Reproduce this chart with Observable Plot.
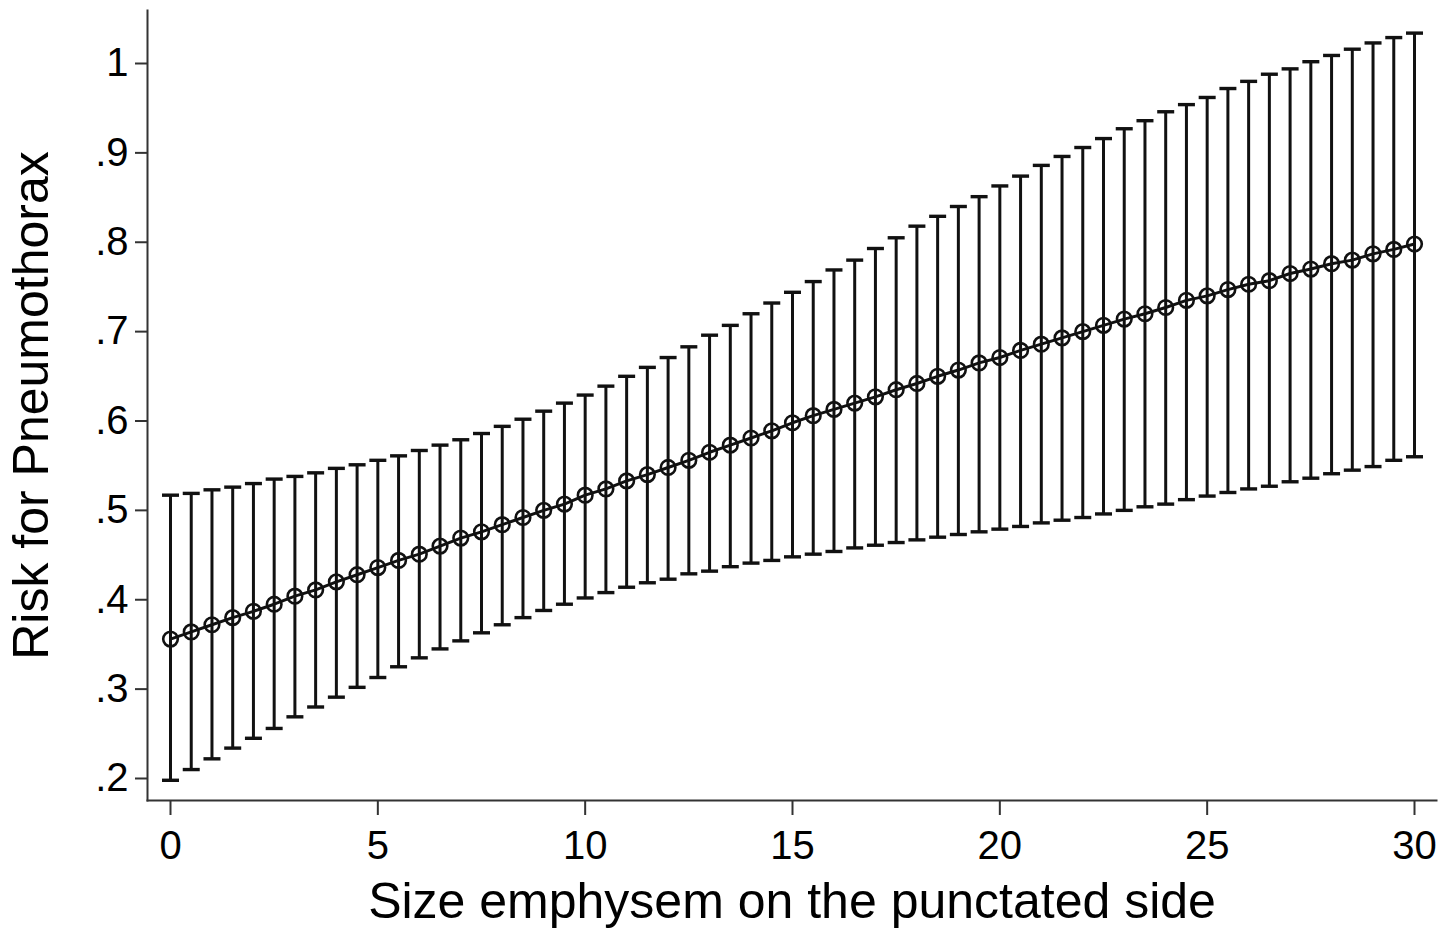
<!DOCTYPE html>
<html>
<head>
<meta charset="utf-8">
<script src="https://cdn.jsdelivr.net/npm/d3@7"></script>
<script src="https://cdn.jsdelivr.net/npm/@observablehq/plot@0.6"></script>
<style>
html, body { margin: 0; padding: 0; background: #fff; }
#chart svg { display: block; }
</style>
</head>
<body>
<div id="chart"></div>
<script>
const xs = [0,0.5,1,1.5,2,2.5,3,3.5,4,4.5,5,5.5,6,6.5,7,7.5,8,8.5,9,9.5,
  10,10.5,11,11.5,12,12.5,13,13.5,14,14.5,15,15.5,16,16.5,17,17.5,18,18.5,19,19.5,
  20,20.5,21,21.5,22,22.5,23,23.5,24,24.5,25,25.5,26,26.5,27,27.5,28,28.5,29,29.5,30];

const mean = [0.356,0.364,0.372,0.380,0.387,0.395,0.404,0.411,0.420,0.428,
  0.436,0.444,0.451,0.460,0.469,0.476,0.484,0.492,0.500,0.507,
  0.517,0.524,0.533,0.540,0.548,0.556,0.565,0.573,0.581,0.589,
  0.598,0.606,0.613,0.620,0.627,0.635,0.642,0.650,0.657,0.665,
  0.671,0.679,0.686,0.693,0.700,0.707,0.714,0.720,0.727,0.735,
  0.740,0.747,0.753,0.757,0.765,0.770,0.776,0.780,0.787,0.792,
  0.798];

const upper = [0.517,0.519,0.523,0.526,0.530,0.535,0.538,0.542,0.547,0.551,
  0.556,0.561,0.567,0.573,0.579,0.586,0.594,0.602,0.611,0.620,
  0.629,0.639,0.650,0.660,0.671,0.683,0.696,0.707,0.720,0.732,
  0.744,0.756,0.769,0.780,0.793,0.805,0.818,0.829,0.840,0.851,
  0.863,0.874,0.886,0.896,0.906,0.916,0.927,0.936,0.946,0.954,
  0.962,0.972,0.980,0.988,0.994,1.002,1.009,1.016,1.023,1.029,
  1.034];

const lower = [0.198,0.210,0.222,0.234,0.245,0.256,0.269,0.280,0.291,0.302,
  0.313,0.325,0.335,0.345,0.354,0.363,0.372,0.380,0.388,0.395,
  0.402,0.408,0.414,0.419,0.423,0.429,0.432,0.437,0.441,0.444,
  0.448,0.451,0.454,0.458,0.461,0.464,0.467,0.470,0.473,0.476,
  0.479,0.482,0.486,0.489,0.492,0.496,0.500,0.504,0.507,0.512,
  0.516,0.520,0.524,0.527,0.532,0.536,0.541,0.545,0.549,0.556,
  0.560];

const xTicks = [0, 5, 10, 15, 20, 25, 30];
const xTickLabels = ["0", "5", "10", "15", "20", "25", "30"];
const yTicks = [0.2, 0.3, 0.4, 0.5, 0.6, 0.7, 0.8, 0.9, 1];
const yTickLabels = [".2", ".3", ".4", ".5", ".6", ".7", ".8", ".9", "1"];
const xTitle = "Size emphysem on the punctated side";
const yTitle = "Risk for Pneumothorax";

const data = xs.map((x, i) => ({x, mean: mean[i], lower: lower[i], upper: upper[i]}));
const xLabelMap = new Map(xTicks.map((t, i) => [t, xTickLabels[i]]));
const yLabelMap = new Map(yTicks.map((t, i) => [t, yTickLabels[i]]));

const capSymbol = {
  draw(ctx, size) {
    const w = Math.sqrt(size / Math.PI);
    ctx.moveTo(-w, 0);
    ctx.lineTo(w, 0);
  }
};

const ink = "#111";

const plot = Plot.plot({
  width: 1454,
  height: 928,
  marginLeft: 147,
  marginRight: 18,
  marginTop: 10,
  marginBottom: 128,
  style: {fontFamily: "'Liberation Sans', Arial, sans-serif", fontSize: "40px", color: "#000", background: "#fff"},
  x: {domain: [-0.5547, 30.5305]},
  y: {domain: [0.17538, 1.0593]},
  marks: [
    Plot.frame({anchor: "left", stroke: "#333", strokeWidth: 2}),
    Plot.frame({anchor: "bottom", stroke: "#333", strokeWidth: 2}),
    Plot.axisX({ticks: xTicks, tickFormat: d => xLabelMap.get(d), tickSize: 15, tickPadding: 15,
      stroke: "#333", strokeWidth: 2, fill: "#000",
      label: xTitle, labelAnchor: "center", labelOffset: 117, labelArrow: "none"}),
    Plot.axisY({ticks: yTicks, tickFormat: d => yLabelMap.get(d), tickSize: 12, tickPadding: 7,
      stroke: "#333", strokeWidth: 2, fill: "#000",
      label: yTitle, labelAnchor: "center", labelOffset: 135, labelArrow: "none"}),
    Plot.ruleX(data, {x: "x", y1: "lower", y2: "upper", stroke: ink, strokeWidth: 3}),
    Plot.dot(data, {x: "x", y: "upper", symbol: capSymbol, r: 8.5, stroke: ink, strokeWidth: 3.4}),
    Plot.dot(data, {x: "x", y: "lower", symbol: capSymbol, r: 8.5, stroke: ink, strokeWidth: 3.4}),
    Plot.line(data, {x: "x", y: "mean", stroke: ink, strokeWidth: 3}),
    Plot.dot(data, {x: "x", y: "mean", r: 7.3, stroke: ink, strokeWidth: 2.6, fill: "none"})
  ]
});

plot.querySelectorAll('g[aria-label="x-axis label"], g[aria-label="y-axis label"]').forEach(g => {
  g.setAttribute("font-size", "50");
  g.style.fontSize = "50px";
});

document.getElementById("chart").appendChild(plot);
</script>
</body>
</html>
